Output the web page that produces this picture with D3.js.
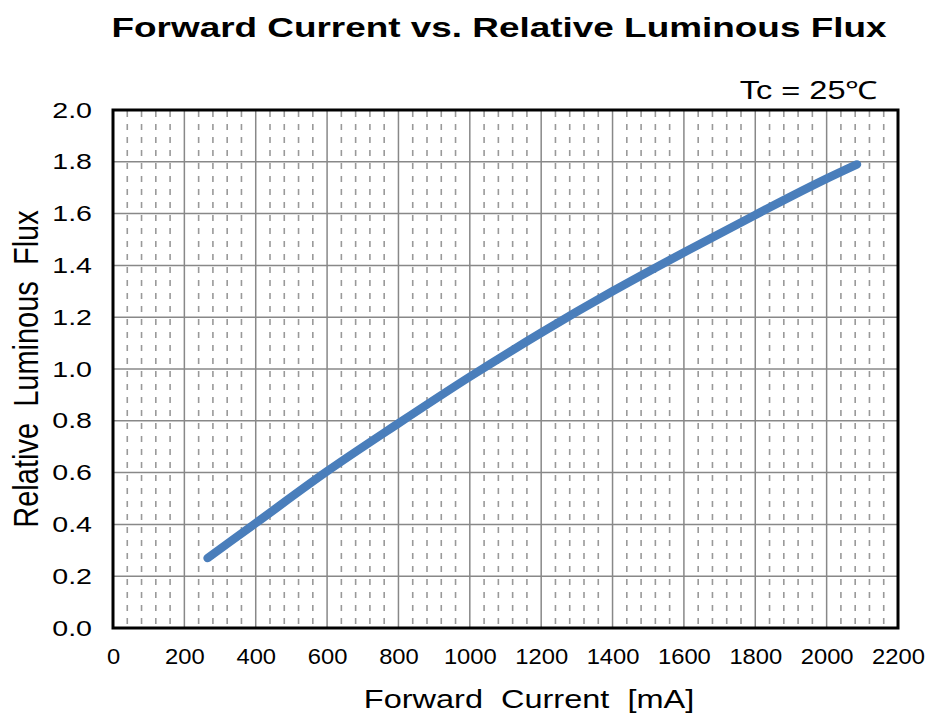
<!DOCTYPE html>
<html>
<head>
<meta charset="utf-8">
<script src="https://cdn.jsdelivr.net/npm/d3@7"></script>
<style>
  body { margin: 0; background: #fff; }
  text { font-family: "Liberation Sans", Arial, sans-serif; fill: #000; }
</style>
</head>
<body>
<div id="chart"></div>
<script>
// values
var current = [265, 400, 600, 800, 1000, 1200, 1400, 1600, 1800, 2000, 2085];
var flux = [0.27, 0.405, 0.605, 0.79, 0.97, 1.14, 1.30, 1.45, 1.595, 1.735, 1.79];
var xTicks = [0, 200, 400, 600, 800, 1000, 1200, 1400, 1600, 1800, 2000, 2200];
var yTicks = [0, 0.2, 0.4, 0.6, 0.8, 1.0, 1.2, 1.4, 1.6, 1.8, 2.0];
var xMinor = d3.range(0, 2200, 40).filter(function (v) { return v % 200 != 0; });

var w = 927, h = 717;
var marginLeft = 113, marginTop = 110, pw = 785, ph = 518;
var stretch = 1.3; // the source text is drawn wide

var svg = d3.select("#chart").append("svg")
  .attr("width", w)
  .attr("height", h);

var x = d3.scaleLinear().domain([0, 2200]).range([0, pw]);
var y = d3.scaleLinear().domain([0, 2]).range([ph, 0]);

var g = svg.append("g").attr("transform", "translate(" + marginLeft + "," + marginTop + ")");

// minor dashed verticals
g.selectAll(".minor").data(xMinor).enter().append("line")
  .attr("x1", function (d) { return x(d); })
  .attr("x2", function (d) { return x(d); })
  .attr("y1", ph).attr("y2", 0)
  .attr("stroke", "#999")
  .attr("stroke-width", 1.6)
  .attr("stroke-dasharray", "6,7")
  .attr("stroke-dashoffset", -4);

// major grid
g.selectAll(".vgrid").data(xTicks).enter().append("line")
  .attr("x1", function (d) { return x(d); })
  .attr("x2", function (d) { return x(d); })
  .attr("y1", 0).attr("y2", ph)
  .attr("stroke", "#888")
  .attr("stroke-width", 1.5);

g.selectAll(".hgrid").data(yTicks).enter().append("line")
  .attr("x1", 0).attr("x2", pw)
  .attr("y1", function (d) { return y(d); })
  .attr("y2", function (d) { return y(d); })
  .attr("stroke", "#888")
  .attr("stroke-width", 1.5);

// border
g.append("rect")
  .attr("width", pw).attr("height", ph)
  .attr("fill", "none")
  .attr("stroke", "#000")
  .attr("stroke-width", 3);

// tick labels
var xAxis = d3.axisBottom(x).tickValues(xTicks).tickSize(0).tickPadding(20)
  .tickFormat(d3.format("d"));
var xa = g.append("g").attr("transform", "translate(0," + ph + ")").call(xAxis);
xa.select(".domain").remove();
xa.selectAll("text")
  .style("font-size", "22px")
  .attr("fill", "#000")
  .attr("transform", "scale(1.08,1)");

var yAxis = d3.axisLeft(y).tickValues(yTicks).tickSize(0)
  .tickFormat(d3.format(".1f"));
var ya = g.append("g").call(yAxis);
ya.select(".domain").remove();
ya.selectAll("text")
  .style("font-size", "22px")
  .attr("fill", "#000")
  .attr("x", -21 / stretch)
  .attr("transform", "scale(" + stretch + ",1)");

// curve
var pts = current.map(function (c, i) { return [c, flux[i]]; });
var line = d3.line()
  .x(function (d) { return x(d[0]); })
  .y(function (d) { return y(d[1]); })
  .curve(d3.curveMonotoneX);

g.append("path")
  .datum(pts)
  .attr("d", line)
  .attr("fill", "none")
  .attr("stroke", "#4a7ebb")
  .attr("stroke-width", 8.5)
  .attr("stroke-linecap", "round");

// titles
svg.append("text")
  .attr("x", 499).attr("y", 37)
  .attr("text-anchor", "middle")
  .attr("textLength", 775)
  .attr("lengthAdjust", "spacingAndGlyphs")
  .style("font-size", "28px")
  .style("font-weight", "bold")
  .text("Forward Current vs. Relative Luminous Flux");

svg.append("text")
  .attr("transform", "translate(878,99) scale(" + stretch + ",1)")
  .attr("text-anchor", "end")
  .style("font-size", "25px")
  .text("Tc = 25\u2103");

svg.append("text")
  .attr("transform", "translate(529,708) scale(" + stretch + ",1)")
  .attr("text-anchor", "middle")
  .style("font-size", "25px")
  .style("white-space", "pre")
  .text("Forward  Current  [mA]");

svg.append("text")
  .attr("transform", "translate(38," + (marginTop + ph / 2) + ") scale(1.2,1) rotate(-90)")
  .attr("text-anchor", "middle")
  .style("font-size", "29px")
  .style("white-space", "pre")
  .text("Relative  Luminous  Flux");
</script>
</body>
</html>
